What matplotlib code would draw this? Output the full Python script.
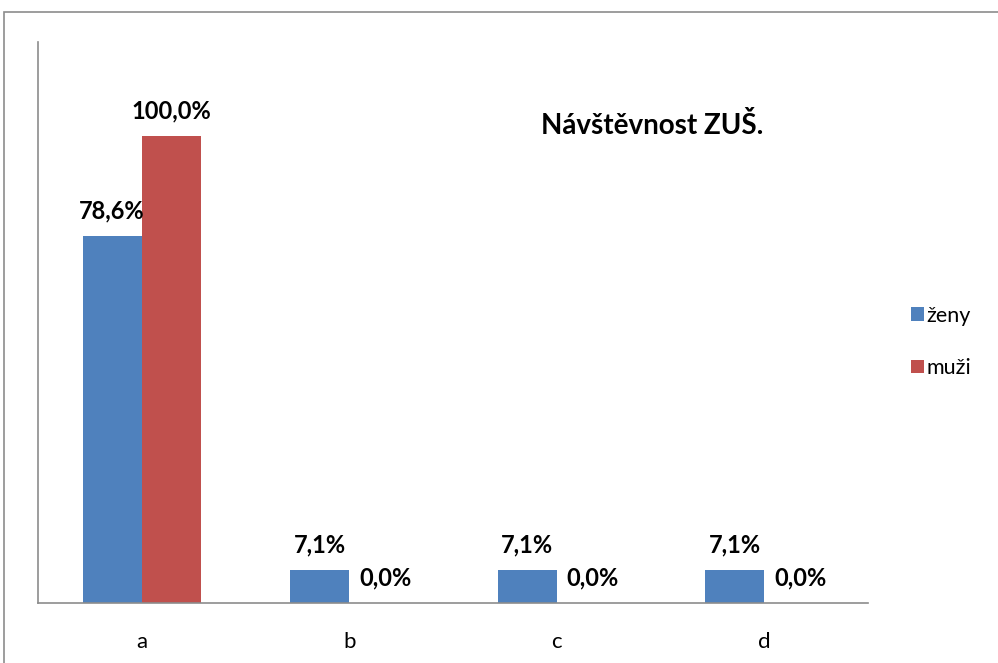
import matplotlib.pyplot as plt
from matplotlib.patches import Rectangle
import numpy as np

categories = ['a', 'b', 'c', 'd']
zeny = [78.6, 7.1, 7.1, 7.1]
muzi = [100.0, 0.0, 0.0, 0.0]
series_names = ['ženy', 'muži']
title = 'Návštěvnost ZUŠ.'

plt.rcParams['font.family'] = ['Lato', 'DejaVu Sans']

fig = plt.figure(figsize=(9.98, 6.63), dpi=100)
W, H = 998, 663

# outer chart border
fig.patches.append(Rectangle((4 / W, -0.1), 1.2, (663 - 12) / H + 0.1,
                             transform=fig.transFigure, fill=False,
                             edgecolor='#8c8c8c', linewidth=1.2))

ax = fig.add_axes([38 / W, (H - 603) / H, 830 / W, 561 / H])
x = np.arange(len(categories))
w = 0.285
b1 = ax.bar(x - w / 2, zeny, w, color='#4F81BD', label=series_names[0])
b2 = ax.bar(x + w / 2, muzi, w, color='#C0504D', label=series_names[1])

for bars, vals in ((b1, zeny), (b2, muzi)):
    for r, v in zip(bars, vals):
        ax.annotate(f'{v:.1f}%'.replace('.', ','),
                    (r.get_x() + r.get_width() / 2 + (0.03 if v == 0 else 0), v),
                    xytext=(0, 18), textcoords='offset points',
                    ha='center', va='center', fontsize=17, fontweight='bold')

ax.set_xlim(-0.5, 3.5)
ax.set_ylim(0, 120)
ax.set_xticks(x)
ax.set_xticklabels(categories, fontsize=16)
ax.tick_params(axis='x', length=0, pad=21)
ax.set_yticks([])
for s in ('top', 'right'):
    ax.spines[s].set_visible(False)
for s in ('left', 'bottom'):
    ax.spines[s].set_color('#8c8c8c')
    ax.spines[s].set_linewidth(1.2)

fig.text(652 / W, 1 - 125 / H, title, ha='center', va='center',
         fontsize=20, fontweight='bold')

fig.legend(handles=[b1, b2], labels=series_names, loc='center left',
           bbox_to_anchor=(892 / W, 1 - 342 / H), frameon=False,
           fontsize=15.5, handlelength=0.6, handleheight=0.6,
           handletextpad=0.1, labelspacing=1.5)

fig.savefig('out.png', dpi=100)
